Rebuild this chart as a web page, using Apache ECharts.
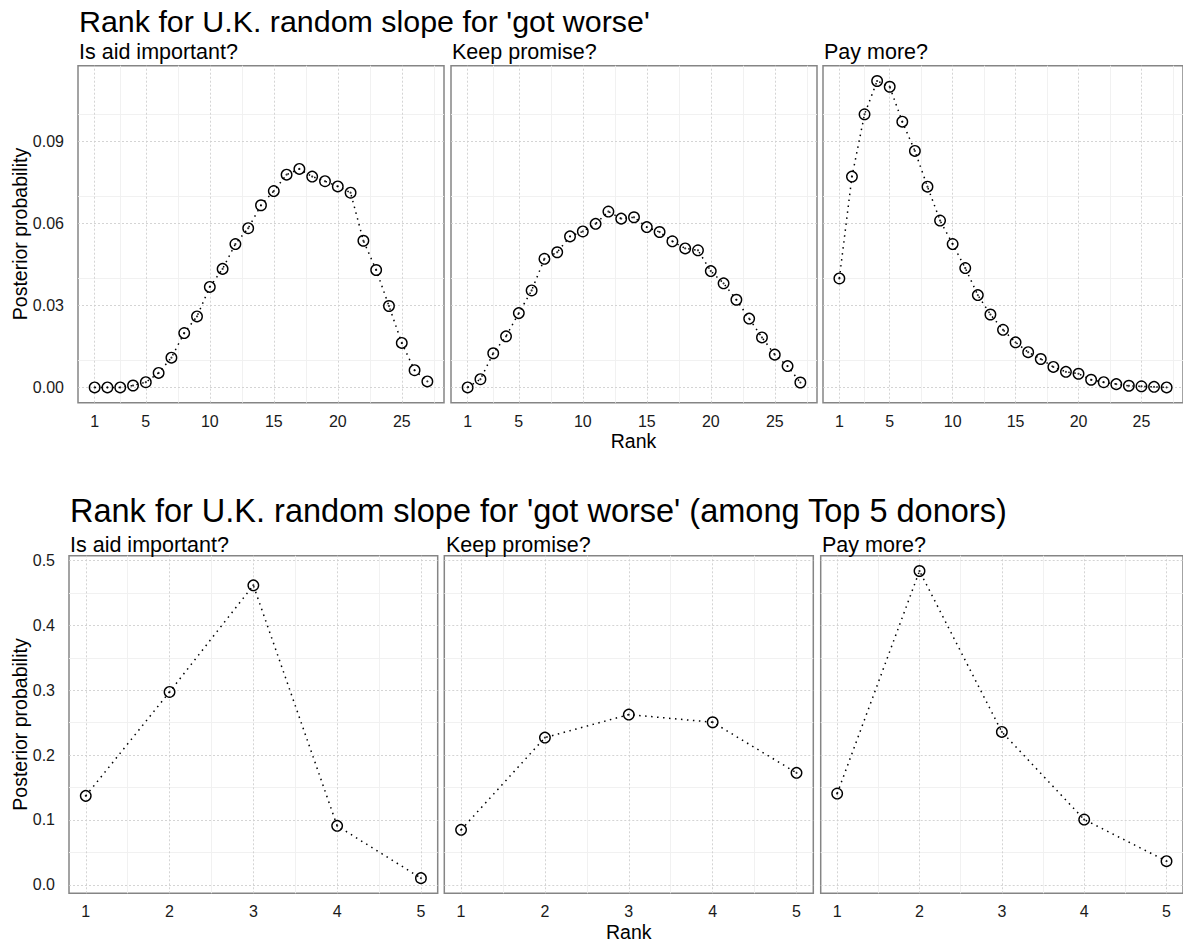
<!DOCTYPE html>
<html>
<head>
<meta charset="utf-8">
<script src="https://cdn.jsdelivr.net/npm/echarts@6/dist/echarts.min.js"></script>
<style>
html,body{margin:0;padding:0;background:#fff;}
#chart{width:1183px;height:944px;}
</style>
</head>
<body>
<div id="chart"></div>
<script>
// ---------- data ----------
const topTitle = "Rank for U.K. random slope for 'got worse'";
const bottomTitle = "Rank for U.K. random slope for 'got worse' (among Top 5 donors)";
const panelNames = ["Is aid important?", "Keep promise?", "Pay more?"];
const xTitle = "Rank";
const yTitle = "Posterior probability";

const ranksAll = [1,2,3,4,5,6,7,8,9,10,11,12,13,14,15,16,17,18,19,20,21,22,23,24,25,26,27];
const aidAll = [0.0000,0.0000,0.0000,0.0007,0.0019,0.0053,0.0109,0.0199,0.0260,0.0368,0.0434,0.0525,0.0583,0.0667,0.0719,0.0779,0.0800,0.0772,0.0755,0.0736,0.0713,0.0537,0.0430,0.0298,0.0163,0.0063,0.0022];
const promiseAll = [0.0000,0.0030,0.0125,0.0187,0.0272,0.0355,0.0471,0.0495,0.0553,0.0571,0.0599,0.0644,0.0618,0.0623,0.0587,0.0569,0.0535,0.0509,0.0502,0.0426,0.0381,0.0321,0.0252,0.0183,0.0120,0.0078,0.0018];
const payAll = [0.0399,0.0772,0.1000,0.1122,0.1101,0.0973,0.0866,0.0735,0.0611,0.0525,0.0437,0.0338,0.0267,0.0211,0.0165,0.0129,0.0104,0.0075,0.0057,0.0050,0.0028,0.0019,0.0012,0.0006,0.0004,0.0002,0.0000];

const ranksTop5 = [1,2,3,4,5];
const aidTop5 = [0.1372,0.2975,0.4620,0.0910,0.0103];
const promiseTop5 = [0.0848,0.2271,0.2626,0.2508,0.1727];
const payTop5 = [0.1408,0.4841,0.2359,0.1007,0.0365];

// tick / grid breaks
const xBreaksAll = [1,5,10,15,20,25];
const xMinorAll = [3,7.5,12.5,17.5,22.5,27.5];
const yBreaksAll = [0,0.03,0.06,0.09];
const yMinorAll = [0.015,0.045,0.075,0.105];
const xBreaksTop5 = [1,2,3,4,5];
const xMinorTop5 = [1.5,2.5,3.5,4.5];
const yBreaksTop5 = [0,0.1,0.2,0.3,0.4,0.5];
const yMinorTop5 = [0.05,0.15,0.25,0.35,0.45];

// ---------- layout ----------
const FONT = "'Liberation Sans', Arial, Helvetica, sans-serif";
const rowTop = {top: 65.7, height: 337};
const rowBot = {top: 555.7, height: 337.6};
const colsTop = [[78,366],[451,366],[823,366]];
const colsBot = [[69,368.7],[444.3,369],[820.7,369]];

const panels = [];
[aidAll, promiseAll, payAll].forEach((v,i)=>panels.push({
  ranks: ranksAll, vals: v, row: rowTop, col: colsTop[i],
  xmin: -0.3, xmax: 28.3, ymin: -0.0056, ymax: 0.1178,
  xb: xBreaksAll, xm: xMinorAll, yb: yBreaksAll, ym: yMinorAll, ydec: 2, first: i===0
}));
[aidTop5, promiseTop5, payTop5].forEach((v,i)=>panels.push({
  ranks: ranksTop5, vals: v, row: rowBot, col: colsBot[i],
  xmin: 0.8, xmax: 5.2, ymin: -0.0131, ymax: 0.5077,
  xb: xBreaksTop5, xm: xMinorTop5, yb: yBreaksTop5, ym: yMinorTop5, ydec: 1, first: i===0
}));

const grid = [], xAxis = [], yAxis = [], series = [];
const majorStyle = {color:'#cfcfcf', width:0.9, type:[2,2]};
const minorStyle = {color:'#efefef', width:0.9, type:'solid'};
const tickColor = '#1a1a1a';

panels.forEach((p,i)=>{
  grid.push({left:p.col[0], width:p.col[1], top:p.row.top, height:p.row.height,
    show:true, borderColor:'#858585', borderWidth:1.5, backgroundColor:'#ffffff', containLabel:false});
  xAxis.push({type:'value', gridIndex:i, min:p.xmin, max:p.xmax,
    axisLine:{show:false}, axisTick:{show:false, customValues:p.xb}, splitLine:{show:false},
    axisLabel:{show:true, customValues:p.xb, margin:10.5, color:tickColor, fontFamily:FONT, fontSize:16,
      formatter:(v)=>String(v), showMinLabel:true, showMaxLabel:true}});
  yAxis.push({type:'value', gridIndex:i, min:p.ymin, max:p.ymax,
    axisLine:{show:false}, axisTick:{show:false, customValues:p.yb}, splitLine:{show:false},
    axisLabel:{show:p.first, customValues:p.yb, margin:14, color:tickColor, fontFamily:FONT, fontSize:16,
      formatter:(v)=>Number(v).toFixed(p.ydec), showMinLabel:true, showMaxLabel:true}});
  const pts = p.ranks.map((r,k)=>[r, p.vals[k]]);
  const ml = [];
  p.xm.forEach(v=>ml.push({xAxis:v, lineStyle:minorStyle}));
  p.ym.forEach(v=>ml.push({yAxis:v, lineStyle:minorStyle}));
  p.xb.forEach(v=>ml.push({xAxis:v, lineStyle:majorStyle}));
  p.yb.forEach(v=>ml.push({yAxis:v, lineStyle:majorStyle}));
  series.push({type:'line', xAxisIndex:i, yAxisIndex:i, data:pts, showSymbol:false,
    lineStyle:{opacity:0}, silent:true, z:1, animation:false,
    markLine:{silent:true, symbol:['none','none'], label:{show:false}, z:1, animation:false,
      emphasis:{disabled:true}, data:ml}});
  series.push({type:'line', xAxisIndex:i, yAxisIndex:i, data:pts, symbol:'circle', symbolSize:10.5,
    showSymbol:true, itemStyle:{color:'rgba(255,255,255,0)', borderColor:'#000', borderWidth:1.4},
    lineStyle:{color:'#000', width:1.5, type:[1.5,4.5]}, z:3, animation:false, silent:true});
  series.push({type:'scatter', xAxisIndex:i, yAxisIndex:i, data:pts, symbol:'circle', symbolSize:2.2,
    itemStyle:{color:'#000'}, z:4, animation:false, silent:true});
});

function txt(text, x, y, size, align, rot){
  const o = {type:'text', x:x, y:y, silent:true, z:10,
    style:{text:text, font: size+'px '+FONT, fill:'#000', align:align||'left', verticalAlign:'middle'}};
  if (rot) { o.rotation = rot; }
  return o;
}
const graphic = [
  txt(topTitle, 79, 20.5, 30.4),
  txt(panelNames[0], 79, 51.5, 21.5),
  txt(panelNames[1], 452, 51.5, 21.5),
  txt(panelNames[2], 824, 51.5, 21.5),
  txt(xTitle, 633.5, 441, 19.5, 'center'),
  txt(yTitle, 20, 234, 19.5, 'center', Math.PI/2),
  txt(bottomTitle, 70, 511, 32.5),
  txt(panelNames[0], 70, 544.5, 21.5),
  txt(panelNames[1], 446, 544.5, 21.5),
  txt(panelNames[2], 822, 544.5, 21.5),
  txt(xTitle, 628.8, 932, 19.5, 'center'),
  txt(yTitle, 20, 724.5, 19.5, 'center', Math.PI/2)
];

const chart = echarts.init(document.getElementById('chart'), null, {renderer:'svg'});
chart.setOption({animation:false, backgroundColor:'#ffffff', grid, xAxis, yAxis, series, graphic});
</script>
</body>
</html>
